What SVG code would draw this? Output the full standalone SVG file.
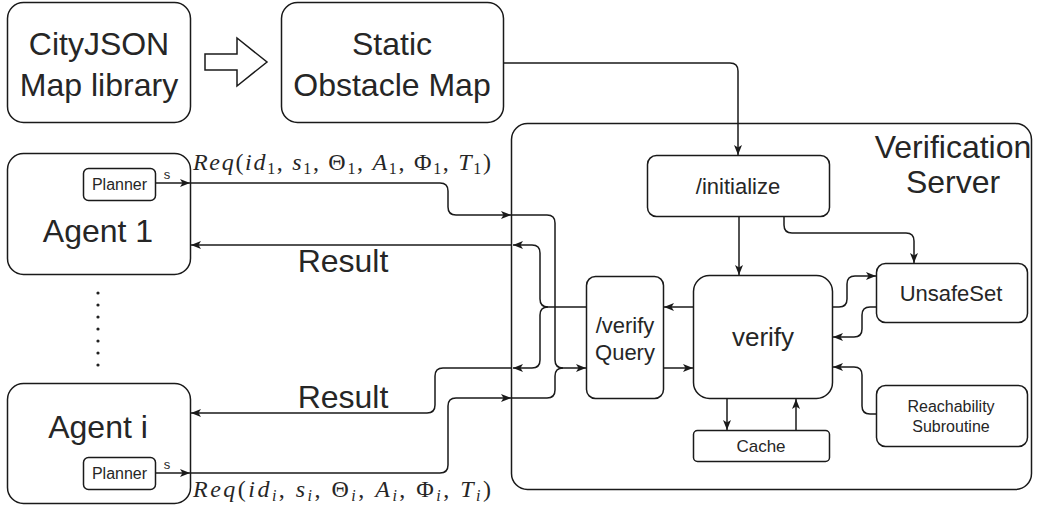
<svg xmlns="http://www.w3.org/2000/svg" width="1037" height="509" viewBox="0 0 1037 509">
  <style>
    .box { fill: #ffffff; stroke: #1a1a1a; stroke-width: 1.5; }
    .edge { fill: none; stroke: #1a1a1a; stroke-width: 1.5; }
    .arr { marker-end: url(#head); }
    .t { font-family: "Liberation Sans", Arial, sans-serif; fill: #262626; text-anchor: middle; }
    .big { font-size: 32px; }
    .mid { font-size: 22px; }
    .sm { font-size: 16px; }
    .math { font-family: "Liberation Serif", "Times New Roman", serif; font-size: 24px; fill: #262626; }
    .it { font-style: italic; }
    .sub { font-size: 16px; }
  </style>
  <defs>
    <marker id="head" viewBox="0 0 10 8" refX="10" refY="4" markerWidth="10" markerHeight="8" markerUnits="userSpaceOnUse" orient="auto">
      <path d="M0,0 L10,4 L0,8 L2.5,4 z" fill="#1a1a1a"/>
    </marker>
  </defs>

  <!-- map sources -->
  <g id="cityjson">
    <rect class="box" x="7.5" y="2.5" width="183" height="120" rx="16"/>
    <text class="t big" x="99" y="55">CityJSON</text>
    <text class="t big" x="99" y="96">Map library</text>
  </g>
  <g id="convert-arrow">
    <path class="box" d="M205,54 H237 V38 L267,62 L237,86 V70 H205 Z"/>
  </g>
  <g id="static-map">
    <rect class="box" x="281.5" y="2.5" width="222" height="120" rx="16"/>
    <text class="t big" x="392" y="55">Static</text>
    <text class="t big" x="392" y="96">Obstacle Map</text>
  </g>

  <!-- agents -->
  <g id="agent-1">
    <rect class="box" x="7.5" y="153.5" width="183" height="121" rx="16"/>
    <text class="t big" x="98" y="242">Agent 1</text>
    <rect class="box" x="83.5" y="168.5" width="72" height="32" rx="5"/>
    <text class="t" font-size="16" x="119.5" y="190">Planner</text>
    <text class="t" font-size="13" x="167" y="179">s</text>
  </g>
  <g id="agent-dots" fill="#222">
    <circle cx="98" cy="293" r="1.6"/>
    <circle cx="98" cy="305" r="1.6"/>
    <circle cx="98" cy="317" r="1.6"/>
    <circle cx="98" cy="329" r="1.6"/>
    <circle cx="98" cy="341" r="1.6"/>
    <circle cx="98" cy="353" r="1.6"/>
    <circle cx="98" cy="365" r="1.6"/>
  </g>
  <g id="agent-i">
    <rect class="box" x="7.5" y="383.5" width="183" height="120" rx="16"/>
    <text class="t big" x="98" y="438">Agent i</text>
    <rect class="box" x="83.5" y="457.5" width="72" height="32" rx="5"/>
    <text class="t" font-size="16" x="119.5" y="479">Planner</text>
    <text class="t" font-size="13" x="167" y="469">s</text>
  </g>

  <!-- server -->
  <g id="server">
    <rect class="box" x="511.5" y="123.5" width="520" height="366" rx="16"/>
    <text class="t big" x="953" y="158">Verification</text>
    <text class="t big" x="953" y="193">Server</text>
  </g>
  <g id="initialize">
    <rect class="box" x="647.5" y="155.5" width="182" height="61" rx="9"/>
    <text class="t mid" x="738" y="194">/initialize</text>
  </g>
  <g id="unsafeset">
    <rect class="box" x="876.5" y="263.5" width="151" height="59" rx="9"/>
    <text class="t mid" x="951" y="301">UnsafeSet</text>
  </g>
  <g id="verify-query">
    <rect class="box" x="586.5" y="276.5" width="77" height="122" rx="9"/>
    <text class="t mid" x="625" y="333">/verify</text>
    <text class="t mid" x="625" y="360">Query</text>
  </g>
  <g id="verify">
    <rect class="box" x="693.5" y="275.5" width="139" height="123" rx="16"/>
    <text class="t" font-size="26" x="763" y="346">verify</text>
  </g>
  <g id="cache">
    <rect class="box" x="693.5" y="430.5" width="136" height="31" rx="4"/>
    <text class="t" font-size="17" x="761" y="452">Cache</text>
  </g>
  <g id="reachability">
    <rect class="box" x="876.5" y="385.5" width="151" height="61" rx="9"/>
    <text class="t sm" x="951" y="412">Reachability</text>
    <text class="t sm" x="951" y="432">Subroutine</text>
  </g>

  <!-- connectors -->
  <g id="connectors">
    <path class="edge arr" d="M503,63 H730 Q738,63 738,71 V155"/>
    <path class="edge arr" d="M739,217 V275"/>
    <path class="edge arr" d="M784,217 V225 Q784,233 792,233 H906 Q914,233 914,241 V263"/>
    <path class="edge arr" d="M832,307 H839 Q847,307 847,299 V284 Q847,276 855,276 H876"/>
    <path class="edge arr" d="M876,307 H870 Q862,307 862,315 V329 Q862,337 854,337 H833"/>
    <path class="edge arr" d="M876,414 H870 Q862,414 862,406 V375 Q862,367 854,367 H833"/>
    <path class="edge arr" d="M727,399 V430"/>
    <path class="edge arr" d="M796,430 V399"/>
    <path class="edge arr" d="M663,368 H693"/>
    <path class="edge arr" d="M693,307 H664"/>

    <!-- requests from agents -->
    <path class="edge arr" d="M156,183 H190"/>
    <path class="edge arr" d="M190,183 H440 Q448,183 448,191 V207 Q448,215 456,215 H511"/>
    <path class="edge arr" d="M512,215 H547 Q555,215 555,223 V360 Q555,368 563,368 H586"/>
    <path class="edge arr" d="M156,473 H190"/>
    <path class="edge arr" d="M190,473 H440 Q448,473 448,465 V406 Q448,398 456,398 H511"/>
    <path class="edge" d="M512,398 H547 Q555,398 555,390 V376 Q555,368 563,368"/>

    <!-- results back to agents -->
    <path class="edge arr" d="M586,307 H548 Q540,307 540,299 V253 Q540,245 532,245 H513"/>
    <path class="edge arr" d="M548,307 Q540,307 540,315 V360 Q540,368 532,368 H513"/>
    <path class="edge arr" d="M512,245 H191"/>
    <path class="edge arr" d="M512,368 H443 Q435,368 435,376 V405 Q435,413 427,413 H191"/>
  </g>

  <!-- edge labels -->
  <g id="labels">
    <text class="t big" x="343" y="272">Result</text>
    <text class="t big" x="343" y="408">Result</text>
    <text class="math" x="193" y="170" textLength="298" lengthAdjust="spacing"><tspan class="it">Req</tspan>(<tspan class="it">id</tspan><tspan class="sub" dy="4">1</tspan><tspan dy="-4">, </tspan><tspan class="it">s</tspan><tspan class="sub" dy="4">1</tspan><tspan dy="-4">, Θ</tspan><tspan class="sub" dy="4">1</tspan><tspan dy="-4">, </tspan><tspan class="it">A</tspan><tspan class="sub" dy="4">1</tspan><tspan dy="-4">, Φ</tspan><tspan class="sub" dy="4">1</tspan><tspan dy="-4">, </tspan><tspan class="it">T</tspan><tspan class="sub" dy="4">1</tspan><tspan dy="-4">)</tspan></text>
    <text class="math" x="193" y="497" textLength="298" lengthAdjust="spacing"><tspan class="it">Req</tspan>(<tspan class="it">id</tspan><tspan class="it sub" dy="4">i</tspan><tspan dy="-4">, </tspan><tspan class="it">s</tspan><tspan class="it sub" dy="4">i</tspan><tspan dy="-4">, Θ</tspan><tspan class="it sub" dy="4">i</tspan><tspan dy="-4">, </tspan><tspan class="it">A</tspan><tspan class="it sub" dy="4">i</tspan><tspan dy="-4">, Φ</tspan><tspan class="it sub" dy="4">i</tspan><tspan dy="-4">, </tspan><tspan class="it">T</tspan><tspan class="it sub" dy="4">i</tspan><tspan dy="-4">)</tspan></text>
  </g>
</svg>
